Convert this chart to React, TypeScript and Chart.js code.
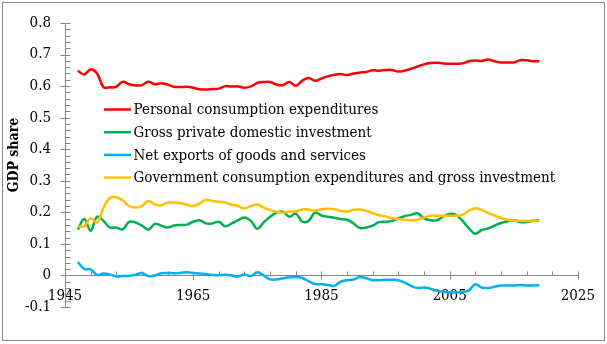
import { useEffect, useRef } from 'react';
import { Chart, registerables } from 'chart.js';

Chart.register(...registerables);

const years = [
  1947, 1948, 1949, 1950, 1951, 1952, 1953, 1954, 1955, 1956, 1957, 1958, 1959,
  1960, 1961, 1962, 1963, 1964, 1965, 1966, 1967, 1968, 1969, 1970, 1971, 1972,
  1973, 1974, 1975, 1976, 1977, 1978, 1979, 1980, 1981, 1982, 1983, 1984, 1985,
  1986, 1987, 1988, 1989, 1990, 1991, 1992, 1993, 1994, 1995, 1996, 1997, 1998,
  1999, 2000, 2001, 2002, 2003, 2004, 2005, 2006, 2007, 2008, 2009, 2010, 2011,
  2012, 2013, 2014, 2015, 2016, 2017, 2018, 2019,
];

const personalConsumption = [
  0.648, 0.637, 0.653, 0.64, 0.597, 0.596, 0.598, 0.614, 0.606, 0.602, 0.603, 0.614, 0.606,
  0.609, 0.605, 0.598, 0.597, 0.598, 0.595, 0.59, 0.589, 0.591, 0.592, 0.6, 0.599, 0.599,
  0.595, 0.599, 0.61, 0.613, 0.613, 0.605, 0.603, 0.613, 0.601, 0.617, 0.626, 0.617, 0.624,
  0.631, 0.636, 0.638, 0.635, 0.64, 0.643, 0.645, 0.65, 0.649, 0.651, 0.651, 0.646, 0.649,
  0.655, 0.662, 0.669, 0.673, 0.674, 0.672, 0.671, 0.671, 0.672, 0.679, 0.681, 0.68, 0.684,
  0.679, 0.675, 0.675, 0.675, 0.682, 0.682, 0.679, 0.679,
];

const privateInvestment = [
  0.145, 0.179, 0.142, 0.186, 0.173, 0.152, 0.152, 0.146, 0.17, 0.168, 0.158, 0.145, 0.163,
  0.158, 0.152, 0.158, 0.16, 0.161, 0.17, 0.175, 0.165, 0.165, 0.17, 0.156, 0.165, 0.175,
  0.184, 0.173, 0.148, 0.168, 0.186, 0.199, 0.202, 0.186, 0.196, 0.171, 0.173, 0.199, 0.19,
  0.186, 0.183, 0.179, 0.1765, 0.165, 0.15, 0.152, 0.158, 0.169, 0.17, 0.173, 0.181, 0.188,
  0.192, 0.197, 0.181, 0.175, 0.175, 0.187, 0.195, 0.1915, 0.173, 0.15, 0.132, 0.144, 0.149,
  0.158, 0.166, 0.171, 0.175, 0.169, 0.169, 0.173, 0.174,
];

const netExports = [
  0.0425, 0.021, 0.019, 0.002, 0.006, 0.003, -0.003, -0.002, -0.001, 0.002, 0.008, -0.002, 0.0,
  0.007, 0.008, 0.007, 0.008, 0.01, 0.008, 0.006, 0.004, 0.002, 0.001, 0.002, 0.0, -0.003,
  0.003, -0.002, 0.01, 0.0, -0.0125, -0.0125, -0.009, -0.006, -0.005, -0.008, -0.018, -0.027, -0.028,
  -0.03, -0.033, -0.02, -0.015, -0.013, -0.005, -0.009, -0.015, -0.015, -0.014, -0.014, -0.015, -0.023,
  -0.033, -0.04, -0.038, -0.042, -0.048, -0.052, -0.054, -0.054, -0.052, -0.048, -0.028, -0.038, -0.04,
  -0.036, -0.032, -0.032, -0.032, -0.03, -0.032, -0.032, -0.031,
];

const governmentSpending = [
  0.156, 0.156, 0.181, 0.168, 0.215, 0.246, 0.248, 0.238, 0.22, 0.215, 0.22, 0.236, 0.225,
  0.222, 0.231, 0.231, 0.229, 0.224, 0.22, 0.228, 0.239, 0.236, 0.233, 0.231, 0.224, 0.22,
  0.212, 0.22, 0.225, 0.215, 0.207, 0.2015, 0.199, 0.2025, 0.2025, 0.209, 0.209, 0.205, 0.21,
  0.211, 0.21, 0.205, 0.2025, 0.208, 0.209, 0.205, 0.197, 0.191, 0.187, 0.182, 0.179, 0.1765,
  0.175, 0.1765, 0.184, 0.189, 0.189, 0.189, 0.189, 0.189, 0.192, 0.205, 0.213, 0.208, 0.198,
  0.19, 0.182, 0.1765, 0.174, 0.1735, 0.1725, 0.1725, 0.1725,
];

const seriesLabels = [
  'Personal consumption expenditures',
  'Gross private domestic investment',
  'Net exports of goods and services',
  'Government consumption expenditures and gross investment',
];

const xTickValues = [1945, 1965, 1985, 2005, 2025];
const xTickLabels = ['1945', '1965', '1985', '2005', '2025'];
const yAxisTitle = 'GDP share';

const FONT = '"DejaVu Serif Condensed", "DejaVu Serif", serif';
const AXIS_COLOR = '#868686';
const COLORS = ['#FF0000', '#00B050', '#00B0F0', '#FFC000'];

const toPoints = (vals: number[]) => vals.map((v, i) => ({ x: years[i], y: v }));

const decorPlugin = {
  id: 'decor',
  beforeDatasetsDraw(chart: any) {
    const ctx = chart.ctx;
    const xs = chart.scales.x;
    const ys = chart.scales.y;
    const ax = Math.round(chart.chartArea.left) + 0.5;
    const y0 = Math.round(ys.getPixelForValue(0)) + 0.5;
    ctx.save();
    ctx.strokeStyle = AXIS_COLOR;
    ctx.lineWidth = 1;
    ctx.beginPath();
    for (let i = -5; i <= 40; i++) {
      const py = Math.round(ys.getPixelForValue(i * 0.02)) + 0.5;
      const major = i % 5 === 0;
      ctx.moveTo(major ? ax - 5 : ax, py);
      ctx.lineTo(ax + 5, py);
    }
    for (let yr = 1945; yr <= 2025; yr += 4) {
      const px = Math.round(xs.getPixelForValue(yr)) + 0.5;
      const major = (yr - 1945) % 20 === 0;
      ctx.moveTo(px, y0 - 4);
      ctx.lineTo(px, major ? y0 + 4 : y0);
    }
    ctx.stroke();
    ctx.restore();
  },
  afterDraw(chart: any) {
    const ctx = chart.ctx;
    ctx.save();
    // outer frame
    ctx.strokeStyle = '#8a8a8a';
    ctx.lineWidth = 1;
    ctx.strokeRect(2.5, 2.5, 602, 338);
    // legend inside the plot
    ctx.font = `15px ${FONT}`;
    ctx.textBaseline = 'middle';
    ctx.textAlign = 'left';
    chart.data.datasets.forEach((ds: any, i: number) => {
      const y = 109.5 + i * 22.7;
      ctx.strokeStyle = ds.borderColor;
      ctx.lineWidth = 2.5;
      ctx.beginPath();
      ctx.moveTo(104, y);
      ctx.lineTo(131, y);
      ctx.stroke();
      ctx.fillStyle = '#000';
      ctx.fillText(ds.label, 133.5, y + 1);
    });
    // y axis title
    ctx.translate(14.7, 155);
    ctx.rotate(-Math.PI / 2);
    ctx.font = `bold 14px ${FONT}`;
    ctx.textAlign = 'center';
    ctx.fillStyle = '#000';
    ctx.fillText(yAxisTitle, 0, 0);
    ctx.restore();
  },
};

export default function App() {
  const ref = useRef<HTMLCanvasElement | null>(null);

  useEffect(() => {
    document.body.style.margin = '0';
    const canvas = ref.current;
    if (!canvas) return;
    const values = [personalConsumption, privateInvestment, netExports, governmentSpending];
    const chart = new Chart(canvas, {
      type: 'line',
      data: {
        datasets: values.map((vals, i) => ({
          label: seriesLabels[i],
          data: toPoints(vals),
          borderColor: COLORS[i],
          backgroundColor: COLORS[i],
          borderWidth: 2.5,
          pointRadius: 0,
          tension: 0.4,
          fill: false,
          order: 3 - i,
        })),
      },
      options: {
        responsive: false,
        animation: false,
        devicePixelRatio: 1,
        layout: { padding: { left: 0, right: 29, top: 17, bottom: 37 } },
        plugins: {
          legend: { display: false },
          tooltip: { enabled: false },
        },
        scales: {
          x: {
            type: 'linear',
            position: { y: 0 } as any,
            min: 1945,
            max: 2025,
            afterBuildTicks: (scale: any) => {
              scale.ticks = xTickValues.map((v) => ({ value: v }));
            },
            grid: { display: false, drawTicks: false },
            border: { display: true, color: AXIS_COLOR, width: 1 },
            ticks: {
              autoSkip: false,
              maxRotation: 0,
              padding: 12,
              color: '#000',
              font: { family: FONT, size: 15 },
              callback: (v: any) => {
                const idx = xTickValues.indexOf(Number(v));
                return idx >= 0 ? xTickLabels[idx] : '';
              },
            },
          },
          y: {
            type: 'linear',
            min: -0.1,
            max: 0.8,
            afterFit: (scale: any) => {
              scale.width = 65;
            },
            grid: { display: false, drawTicks: false },
            border: { display: true, color: AXIS_COLOR, width: 1 },
            ticks: {
              stepSize: 0.1,
              padding: 14,
              color: '#000',
              font: { family: FONT, size: 15 },
            },
          },
        },
      },
      plugins: [decorPlugin],
    });
    return () => chart.destroy();
  }, []);

  return (
    <div style={{ width: 607, height: 344, background: '#fff' }}>
      <canvas ref={ref} width={607} height={344} />
    </div>
  );
}
